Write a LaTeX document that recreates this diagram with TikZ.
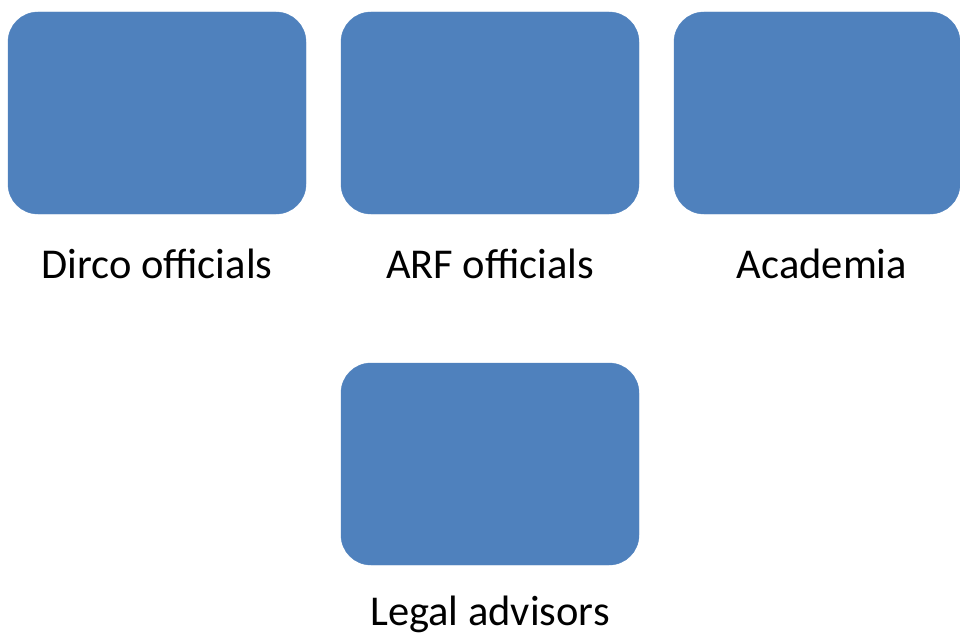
\documentclass[tikz,border=0pt]{standalone}
\usepackage{fontspec}
\setmainfont{Carlito}
\definecolor{boxblue}{HTML}{4F81BD}
\begin{document}
\begin{tikzpicture}[x=1pt,y=-1pt,
  bluebox/.style={fill=boxblue,draw=boxblue,rounded corners=30pt,inner sep=0pt},
  lbl/.style={font=\fontsize{42.5}{50}\selectfont,inner sep=0pt,anchor=center}]
\useasboundingbox (0,0) rectangle (960,634);
\begin{scope}
\clip (0,0) rectangle (960,634);
\draw[bluebox] (8,12) rectangle (306,214);
\draw[bluebox] (341,12) rectangle (639,214);
\draw[bluebox] (674,12) rectangle (960,214);
\draw[bluebox] (341,363) rectangle (639,565);
\end{scope}
\node[lbl] (l1) at (157,264) {Dirco officials};
\node[lbl] (l2) at (490,264) {ARF officials};
\node[lbl] (l3) at (822,264) {Academia};
\node[lbl] (l4) at (490,614) {Legal advisors};
\end{tikzpicture}
\end{document}
